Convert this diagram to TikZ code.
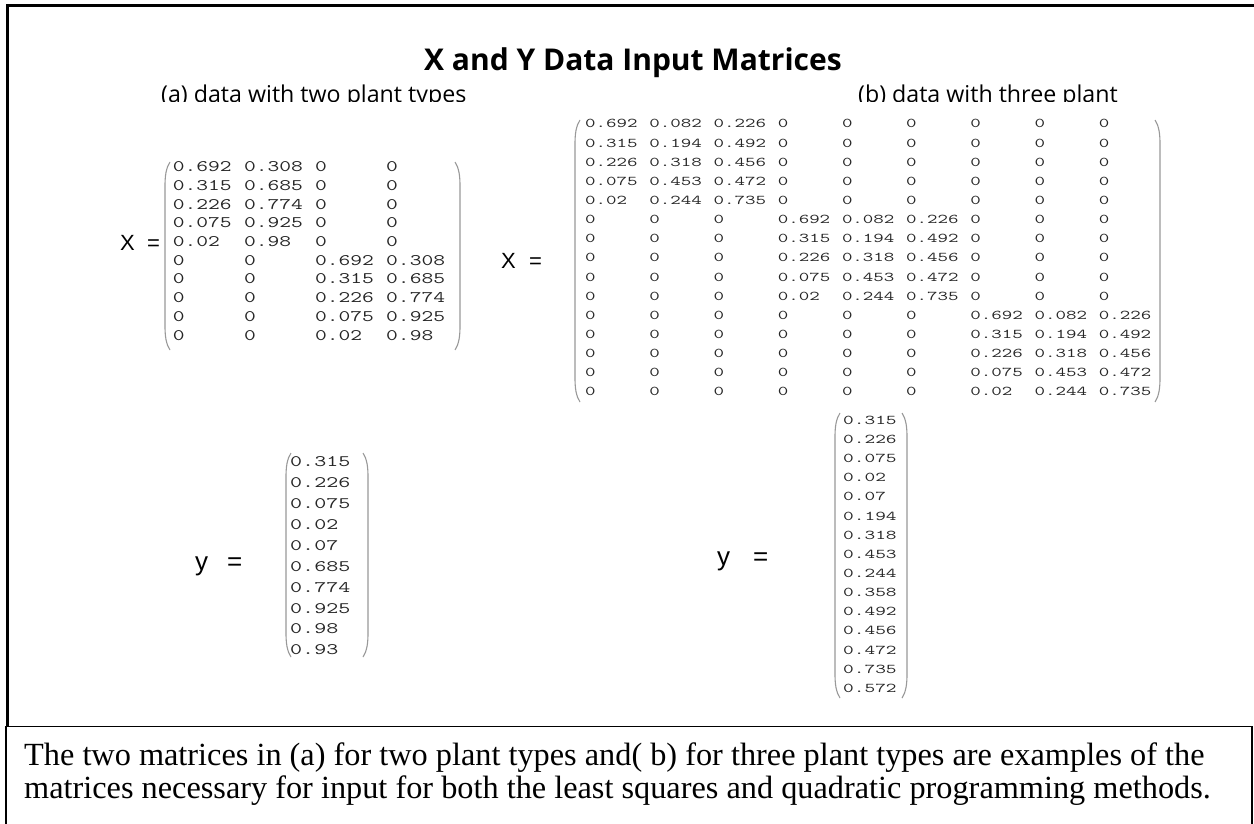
\documentclass[tikz,border=0pt]{standalone}
\usepackage{graphicx}
\usepackage{fontspec}
\setmainfont{Liberation Serif}
\newfontfamily\titlefont{Open Sans}
\newfontfamily\labfont{Liberation Sans}
\definecolor{matgray}{gray}{0.15}
\definecolor{pargray}{gray}{0.6}
\newcommand\myLP[3]{\draw[parenline] ({#1+5},#2) .. controls ({#1+1},{#2+6}) and (#1,{#2+14}) .. (#1,{#2+24}) -- (#1,{#3-24}) .. controls (#1,{#3-14}) and ({#1+1},{#3-6}) .. ({#1+5},#3);}
\newcommand\myRP[3]{\draw[parenline] ({#1-5},#2) .. controls ({#1-1},{#2+6}) and (#1,{#2+14}) .. (#1,{#2+24}) -- (#1,{#3-24}) .. controls (#1,{#3-14}) and ({#1-1},{#3-6}) .. ({#1-5},#3);}
\newcommand\cellbox[2]{\scalebox{#1}[1]{#2}}
\begin{document}
\begin{tikzpicture}[x=1pt,y=-1pt,
  parenline/.style={draw=pargray,line width=1.1pt},
  cellA/.style={anchor=base west,inner sep=0pt,text=matgray,font={\ttfamily\fontsize{16.1}{18}\selectfont}},
  cellB/.style={anchor=base west,inner sep=0pt,text=matgray,font={\ttfamily\fontsize{13.4}{16}\selectfont}},
  cellC/.style={anchor=base west,inner sep=0pt,text=matgray,font={\ttfamily\fontsize{16}{18}\selectfont}},
  cellD/.style={anchor=base west,inner sep=0pt,text=matgray,font={\ttfamily\fontsize{13.4}{16}\selectfont}},
  lab/.style={anchor=base west,inner sep=0pt,font={\labfont\fontsize{22}{24}\selectfont}},
  ylab/.style={anchor=base west,inner sep=0pt,font={\labfont\fontsize{26}{28}\selectfont}},
  sub/.style={anchor=base west,inner sep=0pt,font={\titlefont\fontsize{23.2}{24}\selectfont}},
  captext/.style={anchor=base west,inner sep=0pt,font={\fontsize{32.3}{34}\selectfont}}]
\useasboundingbox (0,0) rectangle (1254,824);
\fill[white] (0,0) rectangle (1254,824);
% frame
\draw[line width=3pt] (6,5.8) -- (1254,5.8);
\draw[line width=3pt] (7.7,4.3) -- (7.7,727);
\draw[line width=1.5pt] (6,830) -- (6,726.5) -- (1252,726.5) -- (1252,830);
% title
\node[inner sep=0pt,anchor=base,font={\titlefont\bfseries\fontsize{30}{32}\selectfont}] (title) at (633,71) {X and Y Data Input Matrices};
\begin{scope}
\clip (0,0) rectangle (1254,101.7);
\node[sub] (suba) at (161,103) {(a) data with two plant types};
\node[sub] (subb) at (858,103) {(b) data with three plant};
\end{scope}
% left X matrix
\node[lab] (XAlab) at (120,250) {X};
\node[lab] (XAeq) at (147,250) {=};
\myLP{165}{162}{350}
\myRP{460}{162}{350}
\foreach \row [count=\r] in {{0.692,0.308,0,0},{0.315,0.685,0,0},{0.226,0.774,0,0},{0.075,0.925,0,0},{0.02,0.98,0,0},{0,0,0.692,0.308},{0,0,0.315,0.685},{0,0,0.226,0.774},{0,0,0.075,0.925},{0,0,0.02,0.98}}{
  \foreach \v [count=\c] in \row {
    \pgfmathsetmacro{\cx}{172.7+(\c-1)*71.1}
    \pgfmathsetmacro{\cy}{166.7+(\r-1)*18.7+5}
    \node[cellA] (XA-\r-\c) at (\cx,\cy) {\cellbox{1.42}{\v}};
  }
}
% right X matrix
\node[lab] (XBlab) at (501,269) {X};
\node[lab] (XBeq) at (529,269) {=};
\myLP{575}{120}{402}
\myRP{1160}{120}{402}
\foreach \row [count=\r] in {
{0.692,0.082,0.226,0,0,0,0,0,0},
{0.315,0.194,0.492,0,0,0,0,0,0},
{0.226,0.318,0.456,0,0,0,0,0,0},
{0.075,0.453,0.472,0,0,0,0,0,0},
{0.02,0.244,0.735,0,0,0,0,0,0},
{0,0,0,0.692,0.082,0.226,0,0,0},
{0,0,0,0.315,0.194,0.492,0,0,0},
{0,0,0,0.226,0.318,0.456,0,0,0},
{0,0,0,0.075,0.453,0.472,0,0,0},
{0,0,0,0.02,0.244,0.735,0,0,0},
{0,0,0,0,0,0,0.692,0.082,0.226},
{0,0,0,0,0,0,0.315,0.194,0.492},
{0,0,0,0,0,0,0.226,0.318,0.456},
{0,0,0,0,0,0,0.075,0.453,0.472},
{0,0,0,0,0,0,0.02,0.244,0.735}}{
  \foreach \v [count=\c] in \row {
    \pgfmathsetmacro{\cx}{585+(\c-1)*64.2}
    \pgfmathsetmacro{\cy}{123.8+(\r-1)*19.14+4.2}
    \node[cellB] (XB-\r-\c) at (\cx,\cy) {\cellbox{1.52}{\v}};
  }
}
% left y vector
\node[ylab] (yAlab) at (195,570) {y};
\node[ylab] (yAeq) at (227,570) {=};
\myLP{286}{453}{657}
\myRP{368}{453}{657}
\foreach \v [count=\r] in {0.315,0.226,0.075,0.02,0.07,0.685,0.774,0.925,0.98,0.93}{
  \pgfmathsetmacro{\cy}{461.7+(\r-1)*20.9+5}
  \node[cellC] (yA-\r) at (290,\cy) {\cellbox{1.46}{\v}};
}
% right y vector
\node[ylab] (yBlab) at (717,565) {y};
\node[ylab] (yBeq) at (753,565) {=};
\myLP{835}{413}{698}
\myRP{907}{413}{698}
\foreach \v [count=\r] in {0.315,0.226,0.075,0.02,0.07,0.194,0.318,0.453,0.244,0.358,0.492,0.456,0.472,0.735,0.572}{
  \pgfmathsetmacro{\cy}{420+(\r-1)*19.16+4.2}
  \node[cellD] (yB-\r) at (843,\cy) {\cellbox{1.55}{\v}};
}
% caption
\node[captext] (cap1) at (24,765) {The two matrices in (a) for two plant types and( b) for three plant types are examples of the};
\node[captext] (cap2) at (24,798) {matrices necessary for input for both the least squares and quadratic programming methods.};
\end{tikzpicture}
\end{document}
